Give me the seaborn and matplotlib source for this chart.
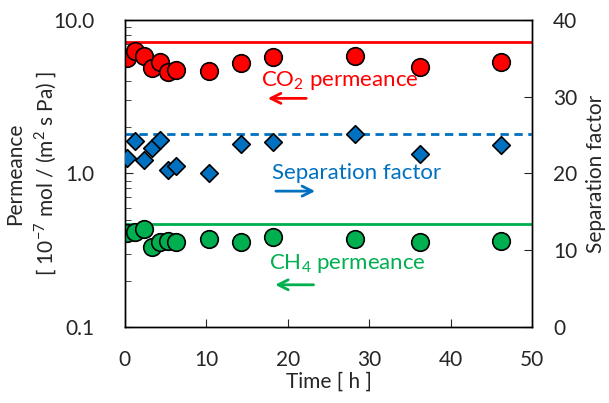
import numpy as np
import pandas as pd
import matplotlib
matplotlib.use("Agg")
import matplotlib.pyplot as plt
import seaborn as sns
from matplotlib.ticker import LogLocator, NullFormatter, FixedLocator

# data
time_h = [0.3, 1.3, 2.3, 3.3, 4.3, 5.3, 6.3, 10.3, 14.3, 18.2, 28.3, 36.2, 46.2]
co2_perm = [5.63, 6.28, 5.85, 4.84, 5.35, 4.60, 4.72, 4.65, 5.27, 5.77, 5.82, 4.96, 5.35]
ch4_perm = [0.411, 0.418, 0.435, 0.333, 0.356, 0.365, 0.360, 0.374, 0.356, 0.384, 0.374, 0.356, 0.365]
sep_factor = [22.0, 24.3, 21.7, 23.3, 24.4, 20.45, 21.0, 20.0, 23.8, 24.05, 25.15, 22.5, 23.7]

co2_ref = 7.15
ch4_ref = 0.467
sep_ref = 25.1

df = pd.DataFrame({"time": time_h, "co2": co2_perm, "ch4": ch4_perm, "sep": sep_factor})

sns.set_style("ticks")
plt.rcParams['font.family'] = ['Lato', 'DejaVu Sans']
plt.rcParams['mathtext.fontset'] = 'custom'
plt.rcParams['mathtext.rm'] = 'Lato'

red = "#FF0000"
blue = "#0070C0"
green = "#00B050"

fig = plt.figure(figsize=(6.09, 4.03), dpi=100)
ax = fig.add_axes([0.205, 0.189, 0.669, 0.761])
ax2 = ax.twinx()

ax.axhline(co2_ref, color=red, lw=2, zorder=1)
ax.axhline(ch4_ref, color=green, lw=2, zorder=1)
ax2.axhline(sep_ref, color=blue, lw=2, ls=(0, (3, 2)), zorder=1)

sns.scatterplot(data=df, x="time", y="co2", ax=ax, color=red, s=160,
                edgecolor="black", linewidth=1.2, zorder=3)
sns.scatterplot(data=df, x="time", y="ch4", ax=ax, color=green, s=160,
                edgecolor="black", linewidth=1.2, zorder=3)
sns.scatterplot(data=df, x="time", y="sep", ax=ax2, color=blue, marker="D", s=80,
                edgecolor="black", linewidth=1.2, zorder=3)

ax.set_yscale("log")
ax.set_ylim(0.1, 10)
ax.set_xlim(0, 50)
ax2.set_ylim(0, 40)

ax.yaxis.set_major_locator(FixedLocator([0.1, 1, 10]))
ax.set_yticklabels(["0.1", "1.0", "10.0"])
ax.yaxis.set_minor_locator(LogLocator(base=10, subs=np.arange(2, 10)))
ax.yaxis.set_minor_formatter(NullFormatter())
ax.set_xticks([0, 10, 20, 30, 40, 50])
ax2.set_yticks([0, 10, 20, 30, 40])

ax.tick_params(axis="x", which="major", direction="in", length=6, labelsize=15, pad=17)
ax.tick_params(axis="y", which="major", direction="in", length=6, labelsize=15, pad=22)
ax.tick_params(axis="y", which="minor", direction="in", length=4)
ax2.tick_params(axis="y", direction="in", length=6, labelsize=15, pad=15)

ax.set_xlabel("Time [ h ]", fontsize=15, labelpad=1)
ax.set_ylabel("Permeance\n[ 10$^{-7}$ mol / (m$^{2}$ s Pa) ]", fontsize=15,
              linespacing=1.35, va="center")
ax.yaxis.set_label_coords(-0.228, 0.5)
ax2.set_ylabel("Separation factor", fontsize=15, labelpad=6)

for a in (ax, ax2):
    for sp in a.spines.values():
        sp.set_color("black")
        sp.set_linewidth(1.0)

ax.text(26.4, 4.06, "CO$_2$ permeance", color=red, fontsize=16, ha="center", va="center")
ax.annotate("", xy=(17.2, 3.09), xytext=(22.6, 3.09),
            arrowprops=dict(arrowstyle="->", color=red, lw=2, mutation_scale=18))
ax2.text(28.4, 20.1, "Separation factor", color=blue, fontsize=16, ha="center", va="center")
ax2.annotate("", xy=(23.7, 17.7), xytext=(18.2, 17.7),
             arrowprops=dict(arrowstyle="->", color=blue, lw=2, mutation_scale=18))
ax.text(27.3, 0.257, "CH$_4$ permeance", color=green, fontsize=16, ha="center", va="center")
ax.annotate("", xy=(18.1, 0.188), xytext=(23.5, 0.188),
            arrowprops=dict(arrowstyle="->", color=green, lw=2, mutation_scale=18))

fig.savefig("out.png", dpi=100)
